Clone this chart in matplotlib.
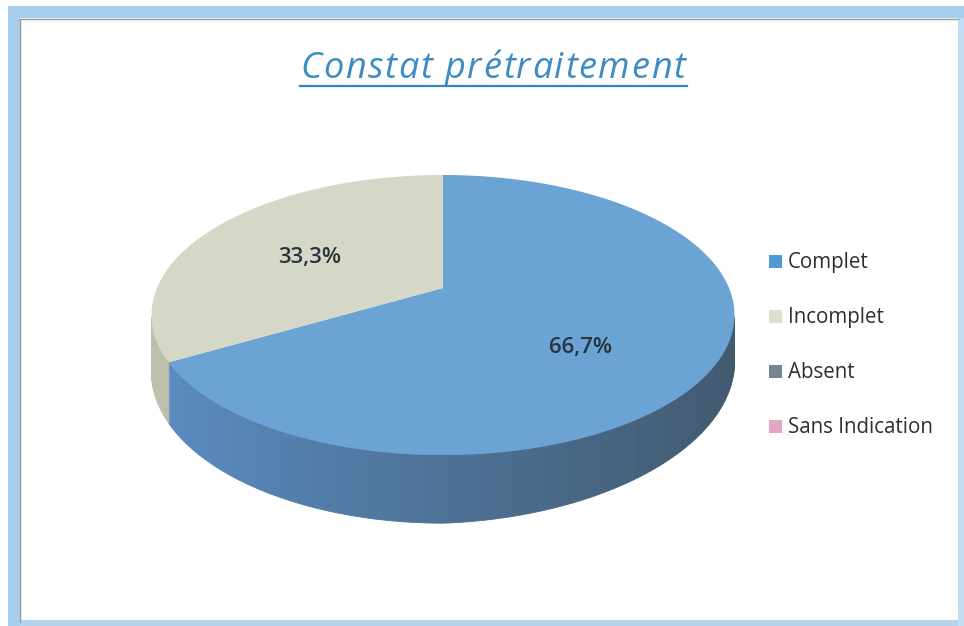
import numpy as np
import matplotlib
matplotlib.use('Agg')
import matplotlib.pyplot as plt
from matplotlib.patches import Polygon, Rectangle
from matplotlib.colors import to_rgb

# valeurs
categories = ['Complet', 'Incomplet', 'Absent', 'Sans Indication']
values = [66.7, 33.3, 0, 0]
title = 'Constat prétraitement'

top_colors = ['#6aa3d4', '#d5d8c6', '#6f8090', '#e0a8c4']
wall_left = ['#5a8dc2', '#bcc1ac', '#5f6f80', '#c890ac']
wall_right = ['#425a70', '#9a9f8c', '#3f4f5f', '#a87090']
legend_colors = ['#4d9bd6', '#dde0d0', '#76858f', '#e0a8c4']

# camembert en perspective
cx, cy = 443, 288
a, b, k = 286, 134.8, 0.193
depth = 55


def project(theta):
    x = np.cos(theta)
    y = np.sin(theta)
    w = 1 + k * y
    # la paroi s'amincit un peu vers la droite
    d = depth / w * (1 - 0.18 * np.maximum(x, 0))
    return cx + a * x / w, cy - b * y / w, d


fig = plt.figure(figsize=(9.64, 6.26), dpi=100)
ax = fig.add_axes([0, 0, 1, 1])
ax.set_xlim(0, 964)
ax.set_ylim(626, 0)
ax.axis('off')

# cadre bleu de la page scannee
ax.add_patch(Rectangle((0, 0), 964, 626, fc='white', ec='none', zorder=0))
ax.add_patch(Rectangle((8, 6), 12, 620, fc='#a6cdec', ec='none', zorder=1))
ax.add_patch(Rectangle((8, 6), 956, 12, fc='#a6cdec', ec='none', zorder=1))
ax.add_patch(Rectangle((958, 18), 6, 608, fc='#c3def3', ec='none', zorder=1))
ax.add_patch(Rectangle((20, 620), 938, 6, fc='#b5d3ea', ec='none', zorder=1))
ax.plot([20, 20, 958], [622, 18.5, 18.5], color='#8f9a9c', lw=1, zorder=2)

# angles des parts, sens horaire depuis le haut
shares = np.array(values) / sum(values) * 360
starts = 90 - np.concatenate([[0], np.cumsum(shares)[:-1]])
ends = starts - shares

# paroi laterale
for i in range(len(values)):
    if shares[i] == 0:
        continue
    angles = np.radians(np.arange(ends[i], starts[i] + 1, 1.0))
    angles = angles[np.sin(angles) < -k]
    c0, c1 = np.array(to_rgb(wall_left[i])), np.array(to_rgb(wall_right[i]))
    for t0, t1 in zip(angles[:-1], angles[1:]):
        x0, y0, d0 = project(t0)
        x1, y1, d1 = project(t1)
        f = np.clip((x0 - (cx - a)) / (2 * a), 0, 1)
        col = c0 + (c1 - c0) * f ** 0.9
        ax.add_patch(Polygon([(x0, y0), (x1, y1), (x1, y1 + d1), (x0, y0 + d0)],
                             fc=col, ec=col, lw=0.6, zorder=3))

# dessus des parts
for i in range(len(values)):
    if shares[i] == 0:
        continue
    angles = np.radians(np.linspace(starts[i], ends[i], 200))
    xs, ys, _ = project(angles)
    pts = [(cx, cy)] + list(zip(xs, ys))
    ax.add_patch(Polygon(pts, fc=top_colors[i], ec='none', zorder=4))

# etiquettes de pourcentage
label_pos = [(580, 348), (310, 258)]
for i, (lx, ly) in enumerate(label_pos):
    txt = f'{values[i]:.1f}%'.replace('.', ',')
    ax.text(lx, ly, txt, ha='center', va='center', fontsize=16, family='Open Sans',
            weight='semibold', color='#27343c', zorder=5)

# titre souligne, lettres espacees
rend = fig.canvas.get_renderer()
title_x = 300
tracking = 1.65
for j, ch in enumerate(title):
    probe = ax.text(0, 0, title[:j] + '|', fontsize=26, family='Open Sans', style='italic')
    bar = ax.text(0, 0, '|', fontsize=26, family='Open Sans', style='italic')
    w = probe.get_window_extent(rend).width - bar.get_window_extent(rend).width
    probe.remove()
    bar.remove()
    ax.text(title_x + w + j * tracking, 78, ch, ha='left', va='baseline', fontsize=26,
            family='Open Sans', style='italic', color='#3d8cc4', zorder=5)
ax.plot([300, 687], [86, 86], color='#2f86c0', lw=1.6, zorder=5)

# legende
legend_y = [268, 323, 378, 433]
for name, col, ly in zip(categories, legend_colors, legend_y):
    ax.add_patch(Rectangle((769, ly - 13), 13, 13, fc=col, ec='none', zorder=5))
    ax.text(788, ly, name, ha='left', va='baseline', fontsize=14.8, family='Open Sans',
            color='#2b2f33', zorder=5)

fig.savefig('out.png', dpi=100)
